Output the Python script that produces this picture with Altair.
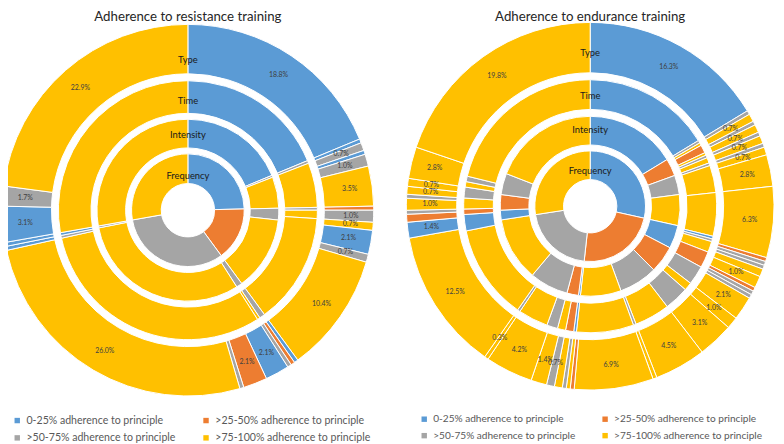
import altair as alt
import pandas as pd

CATS = ["0-25% adherence to principle", ">25-50% adherence to principle",
        ">50-75% adherence to principle", ">75-100% adherence to principle"]
COLORS = ["#5B9BD5", "#ED7D31", "#A5A5A5", "#FFC000"]
CODE = {"B": CATS[0], "O": CATS[1], "G": CATS[2], "Y": CATS[3]}
RING_NAMES = ["Frequency", "Intensity", "Time", "Type"]

# ---------------- Adherence to resistance training ----------------
res_frequency_cat = ["B", "O", "G", "Y"]
res_frequency_n = [71, 44, 93, 80]
res_intensity_cat = ["B", "G", "Y", "G", "Y", "G", "Y", "G", "Y"]
res_intensity_n = [54, 1, 16, 6, 38, 3, 89, 1, 80]
res_time_cat = ["B", "G", "Y", "G", "Y", "Y", "G", "Y", "Y", "G", "B", "Y"]
res_time_n = [54, 1, 16, 1, 3, 40, 2, 1, 88, 1, 1, 80]
res_type_cat = ["B", "B", "G", "B", "G", "Y", "O", "G", "Y", "B", "G", "Y",
                "B", "O", "G", "B", "O", "G", "Y", "B", "B", "B", "G", "Y"]
res_type_n = [54, 1, 2, 1, 3, 10, 1, 3, 2, 6, 2, 30,
              1, 1, 1, 6, 6, 1, 75, 1, 1, 9, 5, 66]
res_type_label = ["18.8%", "", "0.7%", "", "1.0%", "3.5%", "", "1.0%", "0.7%", "2.1%", "0.7%", "10.4%",
                  "", "", "", "2.1%", "2.1%", "", "26.0%", "", "", "3.1%", "1.7%", "22.9%"]

# ---------------- Adherence to endurance training ----------------
end_frequency_cat = ["B", "O", "G", "Y"]
end_frequency_n = [82, 67, 60, 79]
end_intensity_cat = ["B", "O", "G", "Y", "B", "O", "G", "Y",
                     "B", "O", "G", "Y", "B", "O", "G", "Y"]
end_intensity_n = [47, 9, 10, 16, 12, 14, 20, 21, 1, 6, 20, 33, 5, 8, 11, 55]
end_time_cat = ["B", "G", "Y", "O", "Y", "G", "Y", "G", "Y", "Y",
                "B", "G", "Y", "O", "G", "Y", "G", "Y", "G", "Y",
                "B", "O", "Y", "G", "Y", "G", "Y",
                "B", "O", "Y", "G", "Y", "G", "Y"]
end_time_n = [47, 1, 1, 3, 1, 1, 2, 1, 10, 16,
              1, 1, 4, 6, 7, 3, 9, 13, 1, 21,
              1, 3, 3, 4, 11, 1, 35,
              6, 2, 4, 4, 2, 2, 61]
end_type_cat = ["B", "G", "Y", "G", "Y", "G", "Y", "G", "Y", "Y", "Y",
                "O", "G", "G", "Y", "Y", "O", "G", "G", "Y", "Y", "Y", "Y", "Y", "Y",
                "O", "Y", "G", "Y", "G", "Y", "Y", "Y", "Y", "B", "O", "G", "Y", "G", "Y", "Y", "Y", "Y"]
end_type_n = [47, 1, 2, 1, 2, 1, 2, 1, 2, 8, 18,
              1, 1, 1, 2, 3, 1, 1, 1, 6, 3, 9, 13, 1, 20,
              1, 1, 1, 2, 2, 4, 12, 1, 36, 4, 2, 1, 3, 1, 2, 2, 8, 57]
end_type_label = ["16.3%", "", "0.7%", "", "0.7%", "", "0.7%", "", "0.7%", "2.8%", "6.3%",
                  "", "", "", "", "1.0%", "", "", "", "2.1%", "1.0%", "3.1%", "4.5%", "", "6.9%",
                  "", "", "", "", "0.7%", "1.4%", "4.2%", "0.3%", "12.5%", "1.4%", "", "", "1.0%", "",
                  "0.7%", "0.7%", "2.8%", "19.8%"]

FONT = "Lato"


def ring_frame(cats, vals, labels=None):
    total = float(sum(vals))
    return pd.DataFrame({
        "idx": list(range(len(vals))),
        "cat": [CODE[c] for c in cats],
        "n": vals,
        "frac": [v / total for v in vals],
        "label": labels if labels is not None else [""] * len(vals),
    })


def panel(title, rings, labels, radii, name_r, label_r, cx, cy, clip, legend):
    theta = alt.Theta("frac:Q", stack=True, scale=alt.Scale(domain=[0, 1]))
    color = alt.Color("cat:N", scale=alt.Scale(domain=CATS, range=COLORS), legend=legend)
    layers = []
    for (cats, vals), (r0, r1) in zip(rings, radii):
        df = ring_frame(cats, vals)
        layers.append(
            alt.Chart(df).mark_arc(innerRadius=r0, outerRadius=r1, stroke="white",
                                   strokeWidth=1, clip=clip).encode(
                theta=theta, order=alt.Order("idx:Q"), color=color,
                x=alt.value(cx), y=alt.value(cy))
        )
    # percentage labels on outer ring
    tcats, tvals = rings[-1]
    ldf = ring_frame(tcats, tvals, labels)
    layers.append(
        alt.Chart(ldf).mark_text(radius=label_r, font=FONT, fontSize=7, color="#404040").encode(
            theta=theta, order=alt.Order("idx:Q"), text="label:N",
            x=alt.value(cx), y=alt.value(cy))
    )
    # ring names
    ndf = pd.DataFrame({"name": RING_NAMES, "r": name_r})
    layers.append(
        alt.Chart(ndf).mark_text(font=FONT, fontSize=9.5, color="#1a1a1a").encode(
            theta=alt.value(0), radius=alt.Radius("r:Q", scale=None), text="name:N",
            x=alt.value(cx), y=alt.value(cy))
    )
    # title
    tdf = pd.DataFrame({"t": [title]})
    layers.append(
        alt.Chart(tdf).mark_text(font=FONT, fontSize=13.4, color="#262626", baseline="top").encode(
            text="t:N", x=alt.value(cx), y=alt.value(0))
    )
    return alt.layer(*layers).properties(width=384, height=428)


def make_legend(lx, ly, fs, cpad):
    return alt.Legend(title=None, orient="none", legendX=lx, legendY=ly, columns=2,
                      direction="horizontal",
                      symbolType="square", symbolSize=30, symbolStrokeWidth=0,
                      labelFont=FONT, labelFontSize=fs, labelColor="#595959",
                      labelOffset=4, columnPadding=cpad, rowPadding=6, padding=0)


left = panel("Adherence to resistance training",
             [(res_frequency_cat, res_frequency_n), (res_intensity_cat, res_intensity_n),
              (res_time_cat, res_time_n), (res_type_cat, res_type_n)],
             res_type_label,
             [[27, 57], [63, 92], [98, 131], [138, 188]],
             [35, 76, 110, 152], 165, 182, 202, True,
             make_legend(4, 409, 10.7, 25))

right = panel("Adherence to endurance training",
              [(end_frequency_cat, end_frequency_n), (end_intensity_cat, end_intensity_n),
               (end_time_cat, end_time_n), (end_type_cat, end_type_n)],
              end_type_label,
              [[27, 56], [62, 91], [98, 128], [135, 186]],
              [36, 77, 112, 155], 162, 205, 198, False,
              make_legend(32, 408, 10.2, 25))

chart = alt.hconcat(left, right, spacing=0, padding=0).resolve_scale(
    color="independent", theta="independent"
).configure_view(stroke=None)

chart.save("out.html", embed_options={"renderer": "svg", "actions": False})
